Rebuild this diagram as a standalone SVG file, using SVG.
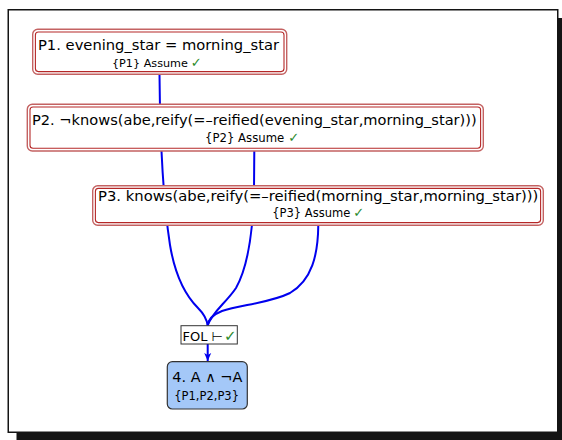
<svg xmlns="http://www.w3.org/2000/svg" width="562" height="440" viewBox="0 0 562 440">
<defs>
<style>
.t{font-family:"DejaVu Sans","Liberation Sans",sans-serif;fill:#000}
.main{font-size:14px}
.chk{fill:#2a8a2a;font-family:"DejaVu Sans",sans-serif;font-size:13px}
.ro{fill:#fff;stroke:#c46262;stroke-width:1.4}
.ri{fill:none;stroke:#b52828;stroke-width:1.1}
.edge{fill:none;stroke:#0000ee;stroke-width:2}
</style>
<marker id="ah" markerWidth="10" markerHeight="10" refX="8" refY="4" orient="auto" markerUnits="userSpaceOnUse">
<path d="M0,0.5 L8,4 L0,7.5 L2,4 Z" fill="#0000ee"/>
</marker>
</defs>
<g id="frame">
<rect x="16.5" y="18" width="550" height="423" fill="#141414"/>
<rect x="8.25" y="9.75" width="549.5" height="422.5" fill="#fff" stroke="#141414" stroke-width="1.5"/>
</g>
<g id="connectors">
<path class="edge" d="M159.5,74.5 C160,130 163,200 170,245 C175,275 185,295 198,308 C204,314 207,319 207.6,325.7"/>
<path class="edge" d="M254.3,151 L254,190 C253,230 249,265 236,288 C226,303 212,312 207.6,325.7"/>
<path class="edge" d="M318.3,225 C318,255 312,280 290,293 C270,303 240,305 222,311 C212,315 208,320 207.6,325.7"/>
<path class="edge" d="M207.7,344 L207.7,361" marker-end="url(#ah)"/>
</g>
<g id="P1">
<rect class="ro" x="32.7" y="29.3" width="254" height="45" rx="5"/>
<rect class="ri" x="35.4" y="32" width="248.6" height="39.6" rx="3"/>
<text class="t main" x="38" y="50" textLength="241" lengthAdjust="spacingAndGlyphs">P1. evening_star = morning_star</text>
<text class="t" x="112" y="66.7" font-size="11.2">{P1} Assume</text>
<text class="chk" x="190.8" y="67">✓</text>
</g>
<g id="P2">
<rect class="ro" x="27.3" y="104.3" width="456" height="46.7" rx="5"/>
<rect class="ri" x="30" y="107" width="450.6" height="41.3" rx="3"/>
<text class="t main" x="32" y="125" textLength="444.7" lengthAdjust="spacingAndGlyphs">P2. ¬knows(abe,reify(=–reified(evening_star,morning_star)))</text>
<text class="t" x="205" y="141.7" font-size="11.7">{P2} Assume</text>
<text class="chk" x="288.2" y="142">✓</text>
</g>
<g id="P3">
<rect class="ro" x="92.7" y="185.7" width="450.6" height="39.6" rx="5"/>
<rect class="ri" x="95.4" y="188.4" width="445.2" height="34.2" rx="3"/>
<text class="t main" x="98" y="200.7" textLength="440.3" lengthAdjust="spacingAndGlyphs">P3. knows(abe,reify(=–reified(morning_star,morning_star)))</text>
<text class="t" x="272.3" y="216.7" font-size="11.5">{P3} Assume</text>
<text class="chk" x="353.2" y="217">✓</text>
</g>
<g id="FOL">
<rect x="181" y="325.7" width="56.3" height="18.3" fill="#fff" stroke="#333" stroke-width="1"/>
<text class="t" x="182.5" y="340.5" font-size="13">FOL ⊢</text>
<text class="chk" x="224" y="341" style="font-size:15px">✓</text>
</g>
<g id="N4">
<rect x="167.3" y="361.7" width="80" height="47.3" rx="5" fill="#a4c8f8" stroke="#333" stroke-width="1.2"/>
<text class="t main" x="172.3" y="381.7" textLength="70" lengthAdjust="spacingAndGlyphs">4. A ∧ ¬A</text>
<text class="t" x="174.3" y="400" font-size="11.5" textLength="64.7" lengthAdjust="spacingAndGlyphs">{P1,P2,P3}</text>
</g>
</svg>
